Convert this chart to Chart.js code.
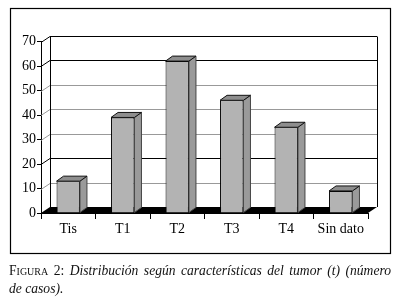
<!DOCTYPE html>
<html>
<head>
  <meta charset="UTF-8" />
  <title>Figura 2</title>
  <script src="https://cdn.jsdelivr.net/npm/chart.js"></script>
  <style>
    body { margin: 0; background: #fff; }
    #wrap { position: relative; width: 400px; height: 307px; overflow: hidden; }
    #chart { position: absolute; left: 0; top: 0; }
    .caption {
      position: absolute;
      left: 9px;
      width: 382px;
      font-family: "Liberation Serif", "DejaVu Serif", serif;
      font-size: 13.6px;
      line-height: 17px;
      color: #111;
    }
    .caption.l1 { text-align: justify; text-align-last: justify; }
    .fig { font-style: normal; font-variant: small-caps; }
    .txt { font-style: italic; }
  </style>
</head>
<body>
  <div id="wrap">
    <canvas id="chart" width="400" height="307"></canvas>
    <div class="caption l1" style="top:262px"><span class="fig">Figura 2:</span> <span class="txt">Distribución según características del tumor (t) (número</span></div>
    <div class="caption l2" style="top:280px"><span class="txt">de casos).</span></div>
  </div>

  <script>
    // data
    const categories = ['Tis', 'T1', 'T2', 'T3', 'T4', 'Sin dato'];
    const casos = [13, 39, 62, 46, 35, 9];
    const yTicks = [0, 10, 20, 30, 40, 50, 60, 70];

    // 3d look
    const wall = { dx: 9, dy: -6 };
    const bar3d = { dx: 7, dy: -5 };
    const gridColor = { 10: '#999', 20: '#000', 30: '#999', 40: '#999', 50: '#999', 60: '#000', 70: '#000' };
    const serif = '"Liberation Serif", "Times New Roman", serif';

    const look3d = {
      id: 'look3d',
      beforeDraw(chart) {
        const ctx = chart.ctx;
        ctx.save();
        ctx.fillStyle = '#fff';
        ctx.fillRect(0, 0, chart.width, chart.height);
        ctx.strokeStyle = '#000';
        ctx.lineWidth = 1.2;
        ctx.strokeRect(10.5, 8.5, 380, 245);
        ctx.restore();
      },
      beforeDatasetsDraw(chart) {
        const ctx = chart.ctx;
        const { left, right, bottom } = chart.chartArea;
        const y = chart.scales.y;
        ctx.save();
        ctx.lineWidth = 1;

        // gridlines: left wall diagonal + back wall
        yTicks.forEach(v => {
          if (v === 0) return;
          const yf = Math.round(y.getPixelForValue(v)) + 0.5;
          ctx.strokeStyle = gridColor[v] || '#000';
          ctx.beginPath();
          ctx.moveTo(left, yf);
          ctx.lineTo(left + wall.dx, yf + wall.dy);
          ctx.lineTo(right + wall.dx, yf + wall.dy);
          ctx.stroke();
        });

        // wall edges
        const yTop = Math.round(y.getPixelForValue(70)) + 0.5 + wall.dy;
        ctx.strokeStyle = '#000';
        ctx.beginPath();
        ctx.moveTo(left + wall.dx + 0.5, bottom + wall.dy);
        ctx.lineTo(left + wall.dx + 0.5, yTop);
        ctx.moveTo(right + wall.dx + 0.5, yTop);
        ctx.lineTo(right + wall.dx + 0.5, bottom + wall.dy);
        ctx.stroke();

        // black floor
        ctx.fillStyle = '#000';
        ctx.beginPath();
        ctx.moveTo(left, bottom);
        ctx.lineTo(right, bottom);
        ctx.lineTo(right + wall.dx, bottom + wall.dy);
        ctx.lineTo(left + wall.dx, bottom + wall.dy);
        ctx.closePath();
        ctx.fill();
        ctx.restore();
      },
      afterDatasetsDraw(chart) {
        const ctx = chart.ctx;
        ctx.save();
        ctx.lineWidth = 1;
        chart.getDatasetMeta(0).data.forEach(el => {
          const { x, y, base, width } = el.getProps(['x', 'y', 'base', 'width'], true);
          const l = x - width / 2, r = x + width / 2;
          // side face
          ctx.fillStyle = '#9a9a9a';
          ctx.strokeStyle = '#444';
          ctx.beginPath();
          ctx.moveTo(r, y);
          ctx.lineTo(r + bar3d.dx, y + bar3d.dy);
          ctx.lineTo(r + bar3d.dx, base + bar3d.dy);
          ctx.lineTo(r, base);
          ctx.closePath();
          ctx.fill();
          ctx.stroke();
          // top face
          ctx.fillStyle = '#8e8e8e';
          ctx.strokeStyle = '#111';
          ctx.beginPath();
          ctx.moveTo(l, y);
          ctx.lineTo(r, y);
          ctx.lineTo(r + bar3d.dx, y + bar3d.dy);
          ctx.lineTo(l + bar3d.dx, y + bar3d.dy);
          ctx.closePath();
          ctx.fill();
          ctx.stroke();
        });
        ctx.restore();
      }
    };

    new Chart(document.getElementById('chart'), {
      type: 'bar',
      data: {
        labels: categories,
        datasets: [{
          data: casos,
          backgroundColor: '#b3b3b3',
          borderColor: '#000',
          borderWidth: 1,
          categoryPercentage: 1,
          barPercentage: 0.43
        }]
      },
      options: {
        responsive: false,
        animation: false,
        layout: { padding: { top: 41.5, right: 32, bottom: 0, left: 0 } },
        plugins: { legend: { display: false }, tooltip: { enabled: false } },
        scales: {
          x: {
            offset: true,
            grid: { display: true, drawOnChartArea: false, drawTicks: true, tickLength: 6, color: '#000' },
            border: { display: true, color: '#000' },
            ticks: { color: '#000', font: { family: serif, size: 14 }, padding: 2, maxRotation: 0 },
            afterFit(s) { s.height = 94; }
          },
          y: {
            min: 0,
            max: 70,
            afterBuildTicks(s) { s.ticks = yTicks.map(v => ({ value: v })); },
            grid: { display: true, drawOnChartArea: false, drawTicks: true, tickLength: 4, color: '#000' },
            border: { display: true, color: '#000' },
            ticks: { color: '#000', font: { family: serif, size: 14 }, padding: 1 },
            afterFit(s) { s.width = 41; }
          }
        }
      },
      plugins: [look3d]
    });
  </script>
</body>
</html>
